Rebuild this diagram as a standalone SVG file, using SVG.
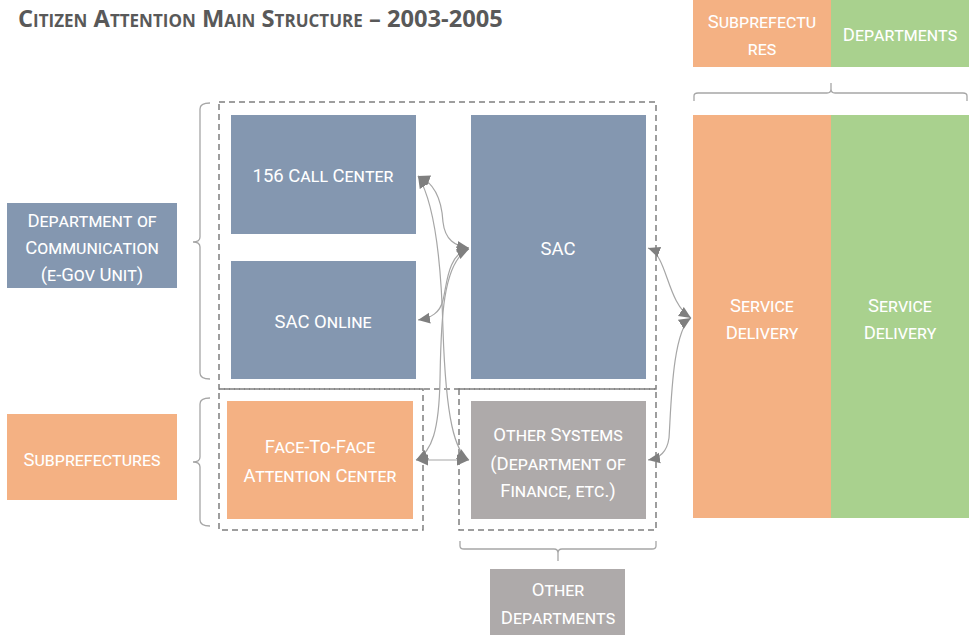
<svg xmlns="http://www.w3.org/2000/svg" width="969" height="635" viewBox="0 0 969 635">
  <style>
    text { font-family: "Open Sans", "Liberation Sans", sans-serif; font-variant: small-caps; }
    .lbl { fill: #ffffff; font-family: Roboto, "Open Sans", sans-serif; font-size: 18.5px; text-anchor: middle; }
    .title { fill: #595959; font-size: 23.7px; font-weight: bold; }
    .blue { fill: #8497b0; }
    .orange { fill: #f4b183; }
    .green { fill: #a9d18e; }
    .grey { fill: #aeaaaa; }
    .dash { fill: none; stroke: #7f7f7f; stroke-width: 1.5; stroke-dasharray: 6 4; }
    .brace { fill: none; stroke: #a6a6a6; stroke-width: 1.3; }
    .conn { fill: none; stroke: #a6a6a6; stroke-width: 1.2; marker-start: url(#head); marker-end: url(#head); }
  </style>
  <defs>
    <marker id="head" markerUnits="userSpaceOnUse" markerWidth="12" markerHeight="12" refX="10" refY="5" orient="auto-start-reverse" viewBox="0 0 10 10">
      <path d="M0,0.5 L10,5 L0,9.5 Z" fill="#7f7f7f"/>
    </marker>
  </defs>

  <rect width="969" height="635" fill="#ffffff"/>

  <text class="title" x="18" y="27">Citizen Attention Main Structure – 2003-2005</text>

  <!-- dashed grouping frames -->
  <g id="frames">
    <rect class="dash" x="219" y="102" width="437" height="287"/>
    <rect class="dash" x="219" y="389" width="204" height="141"/>
    <rect class="dash" x="459" y="389" width="197" height="141"/>
  </g>

  <!-- braces -->
  <g id="braces">
    <path class="brace" d="M210,103 Q200,103 200,109 L200,237 Q200,242 193,242 Q200,242 200,247 L200,373 Q200,379 210,379"/>
    <path class="brace" d="M210,398 Q200,398 200,404 L200,457 Q200,462 193,462 Q200,462 200,467 L200,520 Q200,526 210,526"/>
    <path class="brace" d="M694,101 L694,96 Q694,93 698,93 L827,93 Q831,93 831,89 L831,83 M831,89 Q831,93 835,93 L963,93 Q967,93 967,96 L967,101"/>
    <path class="brace" d="M460,541 L460,546 Q460,549 464,549 L554,549 Q558,549 558,553 L558,561 M558,553 Q558,549 562,549 L652,549 Q656,549 656,546 L656,541"/>
  </g>

  <g id="subprefectures-top">
    <rect class="orange" x="693" y="0" width="138" height="67"/>
    <text class="lbl" x="762" y="28">Subprefectu</text>
    <text class="lbl" x="762" y="55">res</text>
  </g>
  <g id="departments-top">
    <rect class="green" x="831" y="0" width="138" height="67"/>
    <text class="lbl" x="900" y="41">Departments</text>
  </g>

  <g id="service-delivery-sub">
    <rect class="orange" x="693" y="115" width="138" height="403"/>
    <text class="lbl" x="762" y="312">Service</text>
    <text class="lbl" x="762" y="339">Delivery</text>
  </g>
  <g id="service-delivery-dep">
    <rect class="green" x="831" y="115" width="138" height="403"/>
    <text class="lbl" x="900" y="312">Service</text>
    <text class="lbl" x="900" y="339">Delivery</text>
  </g>

  <g id="dept-communication">
    <rect class="blue" x="7" y="203" width="170" height="85"/>
    <text class="lbl" x="92" y="227">Department of</text>
    <text class="lbl" x="92" y="254">Communication</text>
    <text class="lbl" x="92" y="281">(e-Gov Unit)</text>
  </g>
  <g id="subprefectures-left">
    <rect class="orange" x="7" y="414" width="170" height="86"/>
    <text class="lbl" x="92" y="466">Subprefectures</text>
  </g>

  <g id="call-center">
    <rect class="blue" x="231" y="115" width="185" height="119"/>
    <text class="lbl" x="323" y="182">156 Call Center</text>
  </g>
  <g id="sac-online">
    <rect class="blue" x="231" y="261" width="185" height="118"/>
    <text class="lbl" x="323" y="328">SAC Online</text>
  </g>
  <g id="sac">
    <rect class="blue" x="471" y="115" width="175" height="264"/>
    <text class="lbl" x="558" y="255">SAC</text>
  </g>
  <g id="face-to-face">
    <rect class="orange" x="227" y="401" width="186" height="118"/>
    <text class="lbl" x="320" y="453">Face-To-Face</text>
    <text class="lbl" x="320" y="482">Attention Center</text>
  </g>
  <g id="other-systems">
    <rect class="grey" x="471" y="401" width="175" height="118"/>
    <text class="lbl" x="558" y="441">Other Systems</text>
    <text class="lbl" x="558" y="470">(Department of</text>
    <text class="lbl" x="558" y="497">Finance, etc.)</text>
  </g>
  <g id="other-departments">
    <rect class="grey" x="490" y="569" width="135" height="66"/>
    <text class="lbl" x="558" y="596">Other</text>
    <text class="lbl" x="558" y="624">Departments</text>
  </g>

  <!-- connectors -->
  <g id="connectors">
    <path class="conn" d="M418,176 C438,184 442,205 443,222 C445,240 455,246 469,248"/>
    <path class="conn" d="M469,248 C447,255 447,285 443,300 C440,313 431,318 418,320"/>
    <path class="conn" d="M469,249 C441,262 441,330 440,380 C439,430 432,452 416,460"/>
    <path class="conn" d="M418,176 C433,200 441,250 443,330 C446,420 455,452 469,460"/>
    <path class="conn" d="M416,460 L469,460"/>
    <path class="conn" d="M648,248 C668,255 666,302 691,318"/>
    <path class="conn" d="M691,318 C672,330 671,410 669,438 C667,452 660,458 648,460"/>
  </g>
</svg>
